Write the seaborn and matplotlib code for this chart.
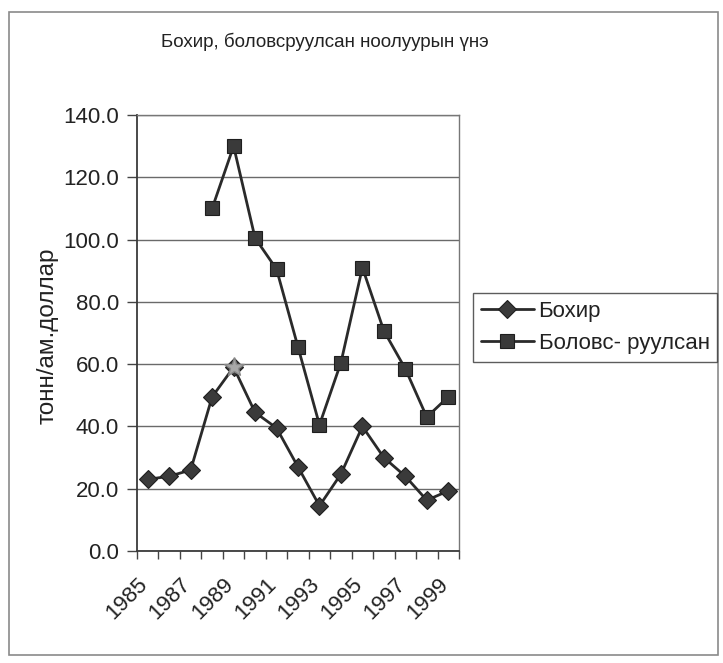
import numpy as np
import pandas as pd
import matplotlib
matplotlib.use("Agg")
import matplotlib.pyplot as plt
from matplotlib.patches import Rectangle
import seaborn as sns

# Cashmere prices, USD per tonne
years = list(range(1985, 2000))
raw = [23, 24, 26, 49.5, 59, 44.5, 39.5, 27, 14.5, 24.7, 40, 30, 24, 16.3, 19.3]
processed = [np.nan, np.nan, np.nan, 110, 130, 100.5, 90.5, 65.5, 40.5, 60.5,
             91, 70.7, 58.5, 43, 49.5]
series_names = ["Бохир", "Боловс- руулсан"]
title = "Бохир, боловсруулсан ноолуурын үнэ"
ylabel = "тонн/ам.доллар"
yticks = [0, 20, 40, 60, 80, 100, 120, 140]
highlight_year = 1989

sns.set_theme(style="white")
plt.rcParams["font.family"] = ["Liberation Sans", "DejaVu Sans"]

df = pd.DataFrame({"pos": np.arange(len(years)), "raw": raw, "processed": processed})

fig = plt.figure(figsize=(7.23, 6.63), dpi=100)
fig.patch.set_facecolor("white")
ax = fig.add_axes([137 / 723, 1 - 551 / 663, 322 / 723, 436 / 663])

line_col = "#2a2a2a"
sns.lineplot(data=df, x="pos", y="raw", ax=ax, color=line_col, lw=2.0,
             marker="D", markersize=9, markerfacecolor="#3a3a3a",
             markeredgecolor="#1e1e1e", markeredgewidth=0.8, label=series_names[0])
sns.lineplot(data=df.dropna(), x="pos", y="processed", ax=ax, color=line_col, lw=2.0,
             marker="s", markersize=10, markerfacecolor="#3a3a3a",
             markeredgecolor="#1e1e1e", markeredgewidth=0.8, label=series_names[1])

# lighter marker on the 1989 raw price
hi = years.index(highlight_year)
ax.plot(df["pos"][hi], df["raw"][hi], marker="*", markersize=15, color="#a8a8a8",
        markeredgecolor="#8a8a8a", zorder=5)

ax.set_xlim(-0.5, len(years) - 0.5)
ax.set_ylim(0, 140)
ax.set_yticks(yticks)
ax.set_yticklabels([f"{v:.1f}" for v in yticks])

# category ticks sit on the boundaries; every other year is labelled
bounds = np.arange(-0.5, len(years), 1.0)
xlabels = [str(years[i]) if (i < len(years) and i % 2 == 0) else "" for i in range(len(bounds))]
ax.set_xticks(bounds)
ax.set_xticklabels(xlabels, rotation=45, ha="right", va="top", rotation_mode="anchor")
ax.tick_params(axis="x", length=6, width=1, color="#444", pad=10.5, labelsize=16,
               colors="#222", bottom=True)
ax.tick_params(axis="y", length=7, width=1, color="#444", pad=6, labelsize=16,
               left=True, colors="#222")
ax.set_xlabel("")
ax.set_ylabel("")
ax.grid(axis="y", color="#6a6a6a", lw=1)
ax.grid(axis="x", visible=False)
ax.set_axisbelow(True)
for side, sp in ax.spines.items():
    sp.set_visible(True)
    sp.set_color("#3a3a3a" if side in ("left", "bottom") else "#777777")
    sp.set_linewidth(1.3 if side in ("left", "bottom") else 1.0)

ax.get_legend().remove()
handles, labels = ax.get_legend_handles_labels()
leg = fig.legend(handles[:2], labels[:2], loc="upper left",
                 bbox_to_anchor=(473 / 723, 1 - 293 / 663), frameon=True,
                 fancybox=False, fontsize=16, handlelength=2.4, handletextpad=0.2,
                 borderpad=0.35, labelspacing=0.5, borderaxespad=0)
leg.get_frame().set_edgecolor("#333333")
leg.get_frame().set_linewidth(1.0)
for t in leg.get_texts():
    t.set_color("#222")

fig.text(325 / 723, 1 - 42 / 663, title, ha="center", va="center", fontsize=13.5,
         color="#222")
fig.text(48 / 723, 1 - 336 / 663, ylabel, ha="center", va="center", rotation=90,
         fontsize=17.5, color="#222")

# outer chart frame
fig.patches.append(Rectangle((9 / 723, 1 - 655 / 663), 709 / 723, 643 / 663,
                             transform=fig.transFigure, fill=False,
                             edgecolor="#8a8a8a", lw=1.2))

fig.savefig("out.png", dpi=100, facecolor="white")
